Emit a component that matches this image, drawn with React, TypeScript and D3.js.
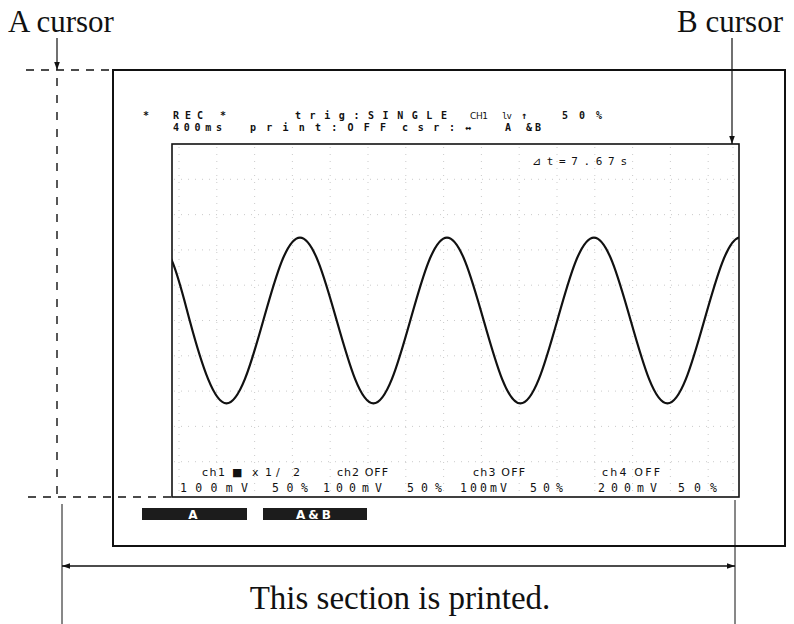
import * as d3 from 'd3';

// ch1 trace (time in s from the left edge, level in mV);
// first and last samples lie just outside the screen and are clipped away
const traceTime = [
  -0.134, 0, 0.125, 0.255, 0.384, 0.514, 0.644, 0.773, 0.903,
  1.032, 1.162, 1.292, 1.421, 1.551, 1.681, 1.81, 1.94,
  2.069, 2.199, 2.329, 2.458, 2.588, 2.718, 2.847, 2.977,
  3.106, 3.236, 3.366, 3.495, 3.625, 3.755, 3.884, 4.014, 4.144,
];
const traceMv = [
  188, 135, 0, -133, -188, -133, 0, 133, 188,
  133, 0, -133, -188, -133, 0, 133, 188,
  133, 0, -133, -188, -133, 0, 133, 188,
  133, 0, -133, -188, -133, 0, 133, 188, 133,
];

// screen texts
const headerTop = ['*', 'REC', '*', 'trig:SINGLE', 'CH1', 'lv', '↑', '50%'];
const headerBottom = ['400ms', 'print:OFF', 'csr:', '↔', 'A&', 'B'];
const channelNames = ['ch1', '■', 'x', '1', '/', '2', 'ch2 OFF', 'ch3 OFF', 'ch4 OFF'];
const channelScales = ['100mV', '50%', '100mV', '50%', '100mV', '50%', '200mV', '50%'];
const cursorReadout = '⊿t=7.67s';
const softKeys = ['A', 'A&B'];

const timeSpan = [0, 4];
const levelSpan = [-400, 400];
const xDivs = 15;
const yDivs = 10;

const LCD = "'DejaVu Sans Mono', monospace";
const SANS = "'DejaVu Sans', sans-serif";
const SERIF = "'Liberation Serif', 'Times New Roman', serif";

export default function App() {
  const width = 794;
  const height = 624;
  const screen = { left: 172, top: 144, right: 739, bottom: 497 };

  const x = d3.scaleLinear().domain(timeSpan).range([screen.left, screen.right]);
  const y = d3.scaleLinear().domain(levelSpan).range([screen.bottom, screen.top]);

  const line = d3.line<number>()
    .x((_, i) => x(traceTime[i]))
    .y(d => y(d))
    .curve(d3.curveNatural);

  const colW = (screen.right - screen.left) / xDivs;
  const gridX = d3.range(xDivs).map(k => screen.left + 7 + k * colW).concat([screen.right - 6]);
  const gridY = d3.range(1, yDivs).map(k => y(levelSpan[0] + k * (levelSpan[1] - levelSpan[0]) / yDivs));

  // horizontal spans of the screen texts
  const topPos = [[143, 151], [173, 203], [220, 228], [295, 447], [470, 488], [502, 512], [521, 528], [562, 602]];
  const botPos = [[173, 222], [250, 386], [402, 455], [465, 478], [505, 532], [535, 545]];
  const namePos = [[202, 225], [232, 243], [252, 257], [265, 270], [276, 285], [293, 302], [337, 388], [473, 525], [602, 660]];
  const scalePos = [[180, 248], [272, 308], [323, 382], [407, 442], [460, 507], [530, 563], [598, 657], [678, 717]];
  const keyPos = [[142, 247], [263, 367]];

  const span = (p: number[], txt: string) => (txt.length > 1 ? { textLength: p[1] - p[0], lengthAdjust: 'spacing' as const } : {});

  const aX = 57;
  const bX = 734;

  return (
    <svg width={width} height={height} style={{ position: 'absolute', left: 0, top: 0, background: '#fff' }}>
      <defs>
        <marker id="head" viewBox="0 0 10 10" refX="10" refY="5" markerWidth="10" markerHeight="8" orient="auto-start-reverse" markerUnits="userSpaceOnUse">
          <path d="M0,1.5 L10,5 L0,8.5 z" fill="#111" />
        </marker>
        <clipPath id="screen-clip">
          <rect x={screen.left} y={screen.top} width={screen.right - screen.left} height={screen.bottom - screen.top} />
        </clipPath>
      </defs>

      {/* cursor labels */}
      <text x={8} y={32} fontFamily={SERIF} fontSize={31} fill="#111">A cursor</text>
      <text x={783} y={32} fontFamily={SERIF} fontSize={31} fill="#111" textAnchor="end">B cursor</text>
      <line x1={aX} x2={aX} y1={38} y2={70} stroke="#111" strokeWidth={1.2} markerEnd="url(#head)" />
      <line x1={bX - 2} x2={bX - 2} y1={38} y2={144} stroke="#111" strokeWidth={1.2} markerEnd="url(#head)" />

      {/* A cursor dashed guides */}
      <line x1={26} x2={113} y1={70} y2={70} stroke="#111" strokeWidth={1.4} strokeDasharray="8 7" />
      <line x1={aX} x2={aX} y1={78} y2={494} stroke="#111" strokeWidth={1.4} strokeDasharray="8 9" />
      <line x1={28} x2={172} y1={497} y2={497} stroke="#111" strokeWidth={1.4} strokeDasharray="8 7" />

      {/* printer frame */}
      <rect x={113} y={70} width={672} height={476} fill="none" stroke="#111" strokeWidth={2} />

      {/* grid */}
      <g stroke="#999" strokeWidth={1} strokeDasharray="1 6" opacity={0.5}>
        {gridX.map((gx, i) => (
          <line key={`gx${i}`} x1={gx} x2={gx} y1={screen.top + 3} y2={screen.bottom - 2} />
        ))}
        {gridY.map((gy, i) => (
          <line key={`gy${i}`} x1={screen.left + 2} x2={screen.right - 2} y1={gy} y2={gy} />
        ))}
      </g>

      {/* screen border */}
      <rect x={screen.left} y={screen.top} width={screen.right - screen.left} height={screen.bottom - screen.top} fill="none" stroke="#111" strokeWidth={1.6} />

      {/* waveform */}
      <path d={line(traceMv) ?? ''} fill="none" stroke="#111" strokeWidth={2.2} clipPath="url(#screen-clip)" />

      {/* header */}
      <g fontFamily={LCD} fontSize={10} fill="#111" fontWeight="bold">
        {headerTop.map((t, i) => (
          <text key={`h1${i}`} x={topPos[i][0]} y={119} {...span(topPos[i], t)}
            fontFamily={i === 4 ? SANS : LCD} fontWeight={i === 4 || i === 5 ? 'normal' : 'bold'}
            fontSize={i === 4 || i === 5 ? 9 : 10}>{t}</text>
        ))}
        {headerBottom.map((t, i) => (
          <text key={`h2${i}`} x={botPos[i][0]} y={131} {...span(botPos[i], t)}>{t}</text>
        ))}
        <text x={532} y={165} textLength={95} lengthAdjust="spacing" fontSize={11} fontWeight="normal">{cursorReadout}</text>
      </g>

      {/* channel settings */}
      <g fontFamily={SANS} fontSize={11} fill="#111">
        {channelNames.map((t, i) => (
          <text key={`c${i}`} x={namePos[i][0]} y={476} {...span(namePos[i], t)}>{t}</text>
        ))}
      </g>
      <g fontFamily={LCD} fontSize={11.5} fill="#111">
        {channelScales.map((t, i) => (
          <text key={`s${i}`} x={scalePos[i][0]} y={492} {...span(scalePos[i], t)}>{t}</text>
        ))}
      </g>

      {/* soft keys */}
      {softKeys.map((t, i) => (
        <g key={`k${i}`}>
          <rect x={keyPos[i][0]} y={508} width={keyPos[i][1] - keyPos[i][0]} height={12} fill="#1c1c1c" />
          <text x={(keyPos[i][0] + keyPos[i][1]) / 2} y={518.5} textAnchor="middle" fontFamily={SANS} fontWeight="bold" fontSize={12} fill="#fff" letterSpacing={3}>{t}</text>
        </g>
      ))}

      {/* printed section */}
      <line x1={62} x2={62} y1={504} y2={624} stroke="#111" strokeWidth={1} />
      <line x1={bX + 1} x2={bX + 1} y1={500} y2={624} stroke="#111" strokeWidth={1} />
      <line x1={62} x2={bX + 1} y1={566} y2={566} stroke="#111" strokeWidth={1.4} markerStart="url(#head)" markerEnd="url(#head)" />
      <text x={400} y={609} textAnchor="middle" fontFamily={SERIF} fontSize={33} fill="#111">This section is printed.</text>
    </svg>
  );
}
